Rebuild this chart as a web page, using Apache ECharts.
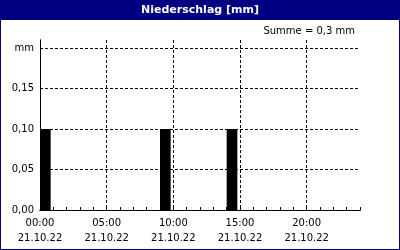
<!DOCTYPE html>
<html><head><meta charset="utf-8">
<script src="https://cdn.jsdelivr.net/npm/echarts@6/dist/echarts.min.js"></script>
<style>html,body{margin:0;padding:0;background:#fff}#c{width:400px;height:250px}</style>
</head><body><div id="c"></div>
<script>
const hours = [0,1,2,3,4,5,6,7,8,9,10,11,12,13,14,15,16,17,18,19,20,21,22,23];
const precip = [0.1,0,0,0,0,0,0,0,0,0.1,0,0,0,0,0.1,0,0,0,0,0,0,0,0,0];
const dateLabel = '21.10.22';
const titleText = 'Niederschlag [mm]';
const sumText = 'Summe = 0,3 mm';
const yUnit = 'mm';

const FONT = 'DejaVu Sans';
const chart = echarts.init(document.getElementById('c'), null, {renderer:'canvas'});
const fmt2 = v => v.toFixed(2).replace('.', ',');
const pad = n => (n < 10 ? '0' : '') + n;
chart.setOption({
  animation:false,
  backgroundColor:'#fff',
  graphic:[
    {type:'rect', shape:{x:0,y:0,width:400,height:20}, style:{fill:'#000080'}, z:0},
    {type:'rect', shape:{x:0.5,y:0.5,width:399,height:249}, style:{fill:null, stroke:'#000080', lineWidth:1}, z:0},
    {type:'text', x:200, y:10, style:{text:titleText, fill:'#fff', font:'bold 11px '+FONT, align:'center', verticalAlign:'middle'}},
    {type:'text', x:355, y:31, style:{text:sumText, fill:'#000', font:'10px '+FONT, align:'right', verticalAlign:'middle'}}
  ],
  grid:{left:40, right:40, top:40, bottom:40},
  xAxis:[
    {type:'value', min:0, max:24, interval:1, position:'bottom',
     axisLine:{show:true, lineStyle:{color:'#000', width:1}},
     axisTick:{show:true, inside:true, length:3, lineStyle:{color:'#000'}},
     axisLabel:{show:true, color:'#000', fontFamily:FONT, fontSize:10, lineHeight:15, margin:6,
       formatter: v => (v % 5 === 0 && v < 24) ? pad(v)+':00\n'+dateLabel : ''},
     splitLine:{show:false}},
    {type:'value', min:0, max:24, interval:5, position:'top',
     axisLine:{show:true, lineStyle:{color:'#000', width:1}},
     axisTick:{show:false}, axisLabel:{show:false},
     splitLine:{show:true, showMinLine:false, showMaxLine:false, lineStyle:{color:'#000', type:[3,2], width:1}}}
  ],
  yAxis:[
    {type:'value', min:0, max:0.21, interval:0.05, position:'left',
     axisLine:{show:true, lineStyle:{color:'#000', width:1}},
     axisTick:{show:false},
     axisLabel:{color:'#000', fontFamily:FONT, fontSize:10, margin:6,
       formatter: v => Math.abs(v-0.2)<1e-9 ? yUnit : (v > 0.2 ? '' : fmt2(v))},
     splitLine:{show:true, showMinLine:false, showMaxLine:false, lineStyle:{color:'#000', type:[3,2], width:1}}},
    {type:'value', min:0, max:0.21, position:'right',
     axisLine:{show:true, lineStyle:{color:'#000', width:1}},
     axisTick:{show:false}, axisLabel:{show:false}, splitLine:{show:false}}
  ],
  series:[{
    type:'custom', xAxisIndex:0, yAxisIndex:0,
    data: hours.map((h,i) => [h, precip[i]]),
    renderItem:(params, api) => {
      const h = api.value(0), v = api.value(1);
      if (!v) return null;
      const p0 = api.coord([h, 0]);
      const p1 = api.coord([h + 0.8, v]);
      return {type:'rect', shape:{x:p0[0], y:p1[1], width:p1[0]-p0[0], height:p0[1]-p1[1]}, style:{fill:'#000'}};
    }
  }]
});
</script></body></html>
